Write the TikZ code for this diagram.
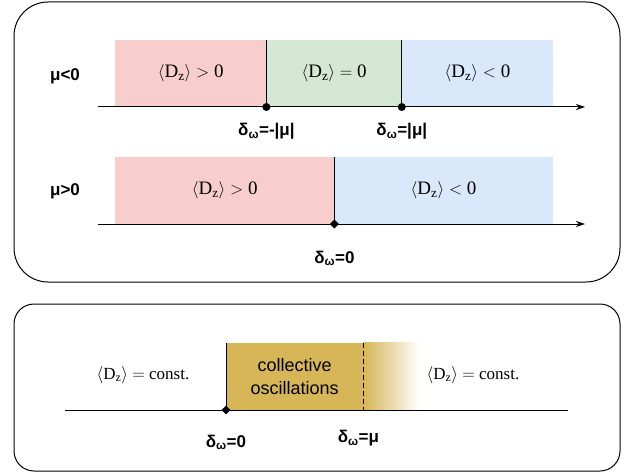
\documentclass[tikz,border=0pt]{standalone}
\usepackage{fontspec}
\usepackage{amsmath}
\usetikzlibrary{arrows.meta,positioning,shapes.geometric}
\newfontfamily\labelfont{Liberation Sans}
\newfontfamily\dzfont{Liberation Serif}
\definecolor{rosefill}{HTML}{F8CECC}
\definecolor{mintfill}{HTML}{D5E8D4}
\definecolor{skyfill}{HTML}{DAE8FC}
\definecolor{goldfill}{HTML}{D6B656}
\newcommand{\dz}{$\langle$D\textsubscript{z}$\rangle$}

\begin{document}
\begin{tikzpicture}[
  x=1pt, y=-1pt,
  panel/.style={draw, line width=1pt},
  region/.style={rectangle, inner sep=0pt, minimum height=67pt, font=\dzfont\fontsize{19}{21}\selectfont},
  axis/.style={line width=1pt},
  arrow/.style={-{Stealth[length=9pt, width=6pt]}, line width=1pt},
  bound/.style={line width=1pt},
  lbl/.style={font=\labelfont\bfseries\fontsize{17}{19}\selectfont, inner sep=0pt},
  dot/.style={circle, fill, inner sep=0pt, minimum size=8pt},
  tip/.style={diamond, fill, inner sep=0pt, minimum size=9pt}
]
\useasboundingbox (0,0) rectangle (626,476);

% upper panel
\draw[panel, rounded corners=34pt] (14,2) rectangle (620,282);

% mu < 0
\node[region, fill=rosefill, minimum width=151pt, anchor=south west] (pos1) at (115,107) {\dz{} $>$ 0};
\node[region, fill=mintfill, minimum width=135pt, right=0pt of pos1] (zero1) {\dz{} $=$ 0};
\node[region, fill=skyfill, minimum width=151pt, right=0pt of zero1] (neg1) {\dz{} $<$ 0};
\coordinate (a1) at (98,107);
\coordinate (b1) at (585,107);
\draw[arrow] (a1) -- (b1);
\draw[bound] (pos1.north east) -- (pos1.south east);
\draw[bound] (zero1.north east) -- (zero1.south east);
\node[dot] (m1) at (pos1.south east) {};
\node[dot] (m2) at (zero1.south east) {};
\node[lbl] (musmall) at (65,76) {μ<0};
\node[lbl, below=12pt of m1] (dmin) {δ\textsubscript{ω}=-|μ|};
\node[lbl, below=12pt of m2] (dplus) {δ\textsubscript{ω}=|μ|};

% mu > 0
\node[region, fill=rosefill, minimum width=219pt, anchor=south west] (pos2) at (115,224) {\dz{} $>$ 0};
\node[region, fill=skyfill, minimum width=218pt, right=0pt of pos2] (neg2) {\dz{} $<$ 0};
\coordinate (a2) at (98,224);
\coordinate (b2) at (585,224);
\draw[arrow] (a2) -- (b2);
\draw[bound] (pos2.north east) -- (pos2.south east);
\node[tip] (m3) at (pos2.south east) {};
\node[lbl] (mularge) at (65,191) {μ>0};
\node[lbl, below=22pt of m3] (dzero) {δ\textsubscript{ω}=0};

% lower panel
\draw[panel, rounded corners=20pt] (14,304) rectangle (620,471);
\node[region, fill=goldfill, minimum width=137pt, anchor=south west, align=center,
  font=\labelfont\fontsize{18}{23}\selectfont] (coll) at (226,410) {collective\\oscillations};
\shade[left color=goldfill, right color=white] (coll.north east) rectangle (420,410);
\coordinate (a3) at (65,410);
\coordinate (b3) at (568,410);
\draw[axis] (a3) -- (b3);
\draw[bound] (coll.north west) -- (coll.south west);
\draw[bound, dashed, dash pattern=on 5pt off 3pt] (coll.north east) -- (coll.south east);
\node[tip] (m4) at (coll.south west) {};
\node[font=\dzfont\fontsize{17}{19}\selectfont] (constl) at (143,375) {\dz{} $=$ const.};
\node[font=\dzfont\fontsize{17}{19}\selectfont] (constr) at (473,375) {\dz{} $=$ const.};
\node[lbl, below=20pt of m4] (dzero2) {δ\textsubscript{ω}=0};
\node[lbl, below=20pt of coll.south east, xshift=-5pt] (dmu) {δ\textsubscript{ω}=μ};
\end{tikzpicture}
\end{document}
